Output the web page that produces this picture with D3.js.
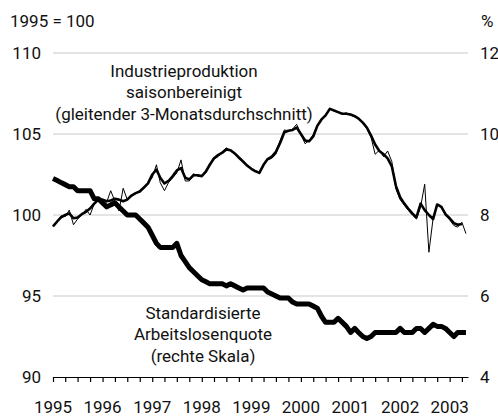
<!DOCTYPE html>
<html>
<head>
<meta charset="utf-8">
<script src="https://cdn.jsdelivr.net/npm/d3@7"></script>
<style>
  body { margin: 0; background: #fff; }
  svg { display: block; font-family: Roboto, sans-serif; }
</style>
</head>
<body>
<script>
// monthly data, first value = January 1995
const startMonth = new Date(1995, 0, 1);

// Industrieproduktion, monthly (thin line)
const ipMonthly = [
  99.3, 99.6, 99.95, 99.9, 100.3, 99.4, 99.75, 100.0, 100.35, 100.0,
  100.7, 101.1, 100.9, 100.8, 101.5, 100.85, 100.25, 101.65, 100.95, 101.2,
  101.35, 101.5, 101.7, 102.0, 102.3, 103.1, 102.0, 101.5, 102.0, 102.3,
  102.6, 103.4, 102.1, 102.1, 102.55, 102.4, 102.4, 102.6, 103.2, 103.45,
  103.6, 103.9, 104.15, 103.95, 103.75, 103.5, 103.3, 103.0, 102.85, 102.7,
  102.55, 103.05, 103.4, 103.5, 103.75, 104.6, 105.25, 105.2, 105.3, 105.6,
  105.0, 104.4, 104.6, 104.95, 105.55, 105.95, 106.2, 106.6, 106.45, 106.35,
  106.25, 106.3, 106.15, 106.1, 105.95, 105.7, 105.3, 104.8, 103.75, 104.0,
  103.6, 103.95, 103.3, 101.6, 100.95, 100.6, 100.3, 100.0, 99.75, 100.5,
  101.9, 97.7, 99.8, 100.65, 100.45, 100.0, 99.7, 99.35, 99.25, 99.55,
  98.85
];

// Industrieproduktion, gleitender 3-Monatsdurchschnitt
const ipAverage = [
  99.3, 99.6, 99.85, 100.0, 100.1, 99.8, 99.85, 100.05, 100.2, 100.4,
  100.7, 100.95, 100.95, 100.85, 100.9, 101.0, 100.95, 100.85, 100.95, 101.2,
  101.35, 101.45, 101.7, 101.95, 102.5, 102.8, 102.3, 101.95, 102.1, 102.4,
  102.75, 102.9, 102.3, 102.2, 102.45, 102.45, 102.4, 102.7, 103.1, 103.5,
  103.7, 103.85, 104.05, 104.0, 103.8, 103.55, 103.3, 103.05, 102.85, 102.7,
  102.6, 103.1, 103.45, 103.6, 103.9, 104.45, 105.1, 105.2, 105.25, 105.4,
  105.0, 104.6, 104.55, 104.85, 105.5, 105.9, 106.15, 106.55, 106.45, 106.35,
  106.25, 106.25, 106.2, 106.1, 105.95, 105.7, 105.4, 104.9, 104.35, 103.95,
  103.75, 103.5, 103.0, 101.8, 101.1, 100.7, 100.4, 100.1, 99.85, 100.7,
  100.3, 100.0, 99.75, 100.65, 100.5, 100.05, 99.8, 99.5, 99.4, 99.45
];

// Standardisierte Arbeitslosenquote in % (right scale)
const unemployment = [
  8.9, 8.85, 8.8, 8.75, 8.7, 8.7, 8.6, 8.6, 8.6, 8.6,
  8.4, 8.4, 8.3, 8.2, 8.25, 8.3, 8.2, 8.1, 8.0, 8.0,
  8.0, 7.9, 7.8, 7.7, 7.5, 7.3, 7.2, 7.2, 7.2, 7.2,
  7.3, 7.0, 6.85, 6.7, 6.6, 6.5, 6.4, 6.35, 6.3, 6.3,
  6.3, 6.3, 6.25, 6.3, 6.25, 6.2, 6.15, 6.2, 6.2, 6.2,
  6.2, 6.2, 6.1, 6.05, 6.0, 5.95, 5.95, 5.95, 5.85, 5.8,
  5.8, 5.8, 5.8, 5.75, 5.7, 5.5, 5.35, 5.35, 5.35, 5.45,
  5.35, 5.25, 5.1, 5.2, 5.1, 5.0, 4.95, 5.0, 5.1, 5.1,
  5.1, 5.1, 5.1, 5.1, 5.2, 5.1, 5.1, 5.1, 5.2, 5.2,
  5.1, 5.2, 5.3, 5.25, 5.25, 5.2, 5.1, 5.0, 5.1, 5.1,
  5.1
];

const leftTicks = [90, 95, 100, 105, 110];
const rightTicks = [4, 6, 8, 10, 12];
const yearLabels = [1995, 1996, 1997, 1998, 1999, 2000, 2001, 2002, 2003];

const w = 498;
const h = 417;
const plotLeft = 53;
const plotRight = 468;
const plotTop = 53;
const plotBottom = 377;

const svg = d3.select('body').append('svg').attr('width', w).attr('height', h);

const x = d3.scaleTime()
  .domain([startMonth, new Date(2003, 4, 16)])
  .range([plotLeft, plotRight]);
const yL = d3.scaleLinear().domain([90, 110]).range([plotBottom, plotTop]);
const yR = d3.scaleLinear().domain([4, 12]).range([plotBottom, plotTop]);

const dateOf = (i) => d3.timeMonth.offset(startMonth, i);

// gridlines
svg.append('g')
  .selectAll('line')
  .data(leftTicks.filter((d) => d > 90))
  .join('line')
  .attr('x1', plotLeft)
  .attr('x2', plotRight)
  .attr('y1', (d) => yL(d))
  .attr('y2', (d) => yL(d))
  .attr('stroke', '#c8c8c8')
  .attr('stroke-width', 1);

// left and right tick labels
svg.append('g')
  .selectAll('text')
  .data(leftTicks)
  .join('text')
  .attr('x', 41)
  .attr('y', (d) => yL(d))
  .attr('dy', '0.36em')
  .attr('text-anchor', 'end')
  .attr('font-size', 17)
  .attr('fill', '#111')
  .text((d) => d);

svg.append('g')
  .selectAll('text')
  .data(rightTicks)
  .join('text')
  .attr('x', 480)
  .attr('y', (d) => yR(d))
  .attr('dy', '0.36em')
  .attr('font-size', 17)
  .attr('fill', '#111')
  .text((d) => d);

svg.append('text').attr('x', 10).attr('y', 27).attr('font-size', 17).attr('fill', '#111').text('1995 = 100');
svg.append('text').attr('x', 481).attr('y', 27).attr('font-size', 17).attr('fill', '#111').text('%');

// x axis, quarterly ticks
const quarters = d3.timeMonth.every(3).range(startMonth, new Date(2003, 4, 2));
const xAxis = d3.axisBottom(x)
  .tickValues(quarters)
  .tickSize(5)
  .tickSizeOuter(0)
  .tickFormat('');
const gx = svg.append('g')
  .attr('transform', `translate(0,${plotBottom})`)
  .call(xAxis);
gx.selectAll('path, line').attr('stroke', '#000').attr('stroke-width', 1.2);

svg.append('g')
  .selectAll('text')
  .data(yearLabels)
  .join('text')
  .attr('x', (d) => x(new Date(d, 0, 1)))
  .attr('y', 413)
  .attr('text-anchor', 'middle')
  .attr('font-size', 17)
  .attr('fill', '#111')
  .text((d) => d);

// lines
const lineL = d3.line().x((d, i) => x(dateOf(i))).y((d) => yL(d));
const lineR = d3.line().x((d, i) => x(dateOf(i))).y((d) => yR(d));

svg.append('path')
  .datum(unemployment)
  .attr('d', lineR)
  .attr('fill', 'none')
  .attr('stroke', '#000')
  .attr('stroke-width', 5)
  .attr('stroke-linejoin', 'round');

svg.append('path')
  .datum(ipMonthly)
  .attr('d', lineL)
  .attr('fill', 'none')
  .attr('stroke', '#000')
  .attr('stroke-width', 1)
  .attr('stroke-linejoin', 'round');

svg.append('path')
  .datum(ipAverage)
  .attr('d', lineL)
  .attr('fill', 'none')
  .attr('stroke', '#000')
  .attr('stroke-width', 2.6)
  .attr('stroke-linejoin', 'round');

// annotations
const addLabel = (lines, cx, y0) => {
  svg.append('g')
    .selectAll('text')
    .data(lines)
    .join('text')
    .attr('x', cx)
    .attr('y', (d, i) => y0 + i * 21.5)
    .attr('text-anchor', 'middle')
    .attr('font-size', 17)
    .attr('fill', '#111')
    .text((d) => d);
};

addLabel(['Industrieproduktion', 'saisonbereinigt', '(gleitender 3-Monatsdurchschnitt)'], 184, 76.5);
addLabel(['Standardisierte', 'Arbeitslosenquote', '(rechte Skala)'], 203, 318.5);
</script>
</body>
</html>
